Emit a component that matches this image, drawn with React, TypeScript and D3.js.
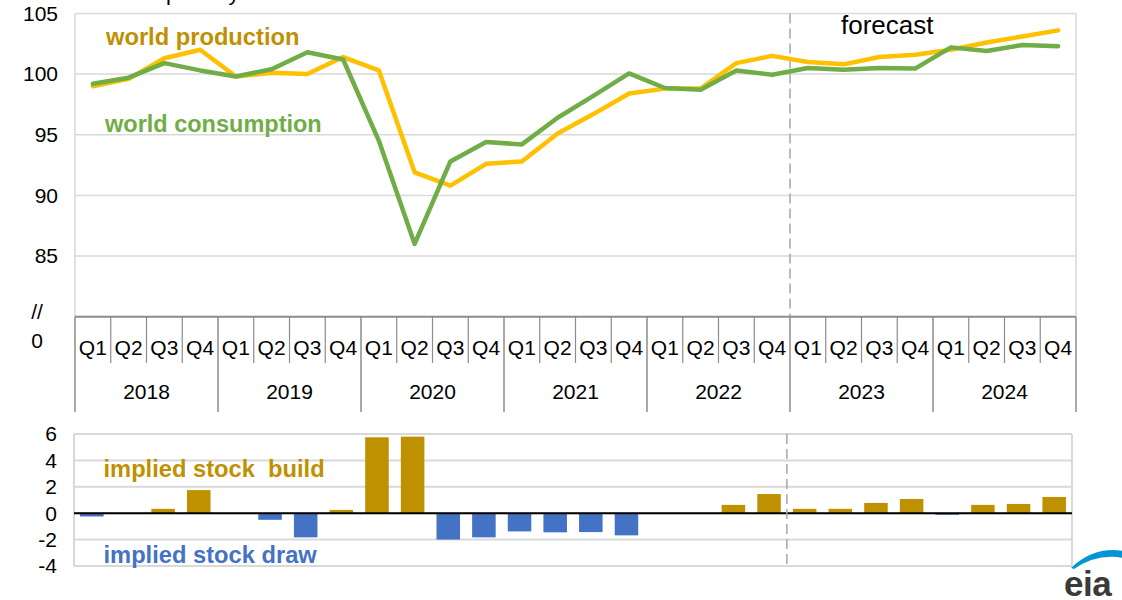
import React from "react";
import * as d3 from "d3";

const quarters = ["Q1", "Q2", "Q3", "Q4"];
const years = ["2018", "2019", "2020", "2021", "2022", "2023", "2024"];
const production = [
  99.0, 99.6, 101.3, 102.0,
  99.8, 100.1, 100.0, 101.4,
  100.3, 91.9, 90.8, 92.6,
  92.8, 95.1, 96.7, 98.4,
  98.8, 98.8, 100.9, 101.5,
  101.0, 100.8, 101.4, 101.6,
  102.0, 102.6, 103.1, 103.6,
];
const consumption = [
  99.2, 99.7, 100.9, 100.3,
  99.8, 100.4, 101.8, 101.2,
  94.5, 86.0, 92.8, 94.4,
  94.2, 96.4, 98.2, 100.05,
  98.85, 98.7, 100.3, 99.95,
  100.5, 100.35, 100.5, 100.45,
  102.2, 101.9, 102.4, 102.3,
];
const stockChange = [
  -0.25, 0, 0.33, 1.75,
  0, -0.5, -1.83, 0.25,
  5.75, 5.8, -2.0, -1.83,
  -1.38, -1.45, -1.43, -1.68,
  0, 0, 0.63, 1.45,
  0.33, 0.33, 0.78, 1.08,
  -0.12, 0.63, 0.7, 1.23,
];
const topTicks = [85, 90, 95, 100, 105];
const bottomTicks = [-4, -2, 0, 2, 4, 6];
const forecastStart = 20;

const FONT = "'Liberation Sans', Arial, sans-serif";
const GRID = "#d9d9d9";
const AXIS = "#8c8c8c";

export default function App() {
  const n = production.length;
  const idx = d3.range(n);
  const xTop = d3.scaleBand<number>().domain(idx).range([75, 1076]).padding(0);
  const xBot = d3.scaleBand<number>().domain(idx).range([74, 1072]).paddingInner(0.34).paddingOuter(0.17);
  const xBotEdge = d3.scaleBand<number>().domain(idx).range([74, 1072]).padding(0);
  const yTop = d3.scaleLinear().domain([80, 105]).range([316.7, 13.4]);
  const yBot = d3.scaleLinear().domain([-4, 6]).range([566, 434]);

  const cx = (i: number) => (xTop(i) as number) + xTop.bandwidth() / 2;
  const line = d3
    .line<number>()
    .x((_, i) => cx(i))
    .y((d) => yTop(d));

  const forecastX = xTop(forecastStart) as number;
  const forecastXBot = xBotEdge(forecastStart) as number;
  const axisY = yTop(80);

  return (
    <svg
      width={1122}
      height={600}
      style={{ position: "absolute", left: 0, top: 0, background: "#fff" }}
      fontFamily={FONT}
    >
      {/* clipped title (only descenders visible) */}
      <text x={166} y={-0.5} fontSize={22} fill="#000">
        per day
      </text>

      {/* top chart gridlines */}
      {topTicks.map((t) => (
        <line key={"g" + t} x1={75} x2={1076} y1={yTop(t)} y2={yTop(t)} stroke={GRID} strokeWidth={1.5} />
      ))}
      <line x1={75} x2={75} y1={yTop(105)} y2={axisY} stroke={GRID} strokeWidth={1.5} />
      <line x1={1076} x2={1076} y1={yTop(105)} y2={axisY} stroke={GRID} strokeWidth={1.5} />
      {topTicks.map((t) => (
        <text key={"t" + t} x={58} y={yTop(t)} dy="0.35em" textAnchor="end" fontSize={21} fill="#000">
          {t}
        </text>
      ))}
      <text x={37} y={319} textAnchor="middle" fontSize={21} fill="#000">//</text>
      <text x={37} y={348} textAnchor="middle" fontSize={21} fill="#000">0</text>

      {/* forecast divider */}
      <line x1={forecastX} x2={forecastX} y1={yTop(105)} y2={axisY} stroke="#a6a6a6" strokeWidth={1.5} strokeDasharray="10,5" />
      <text x={841} y={34} fontSize={26} fill="#000">forecast</text>

      {/* category axis */}
      <line x1={75} x2={1076} y1={axisY} y2={axisY} stroke={AXIS} strokeWidth={2} />
      {d3.range(n + 1).map((i) => {
        const x = i < n ? (xTop(i) as number) : 1076;
        const isYear = i % 4 === 0;
        return (
          <line key={"tk" + i} x1={x} x2={x} y1={axisY} y2={isYear ? 412 : 363} stroke={AXIS} strokeWidth={isYear ? 1.5 : 1.2} />
        );
      })}
      {idx.map((i) => (
        <text key={"q" + i} x={cx(i)} y={355} textAnchor="middle" fontSize={21} fill="#000">
          {quarters[i % 4]}
        </text>
      ))}
      {years.map((yr, j) => {
        const x0 = xTop(j * 4) as number;
        return (
          <text key={yr} x={x0 + xTop.bandwidth() * 2} y={399} textAnchor="middle" fontSize={21} fill="#000">
            {yr}
          </text>
        );
      })}

      {/* lines */}
      <path d={line(production) || ""} fill="none" stroke="#FFC000" strokeWidth={4.5} strokeLinejoin="round" strokeLinecap="round" />
      <path d={line(consumption) || ""} fill="none" stroke="#70AD47" strokeWidth={4.5} strokeLinejoin="round" strokeLinecap="round" />
      <text x={106} y={45} fontSize={23.7} fontWeight="bold" fill="#BF9000">world production</text>
      <text x={105} y={132} fontSize={23.5} fontWeight="bold" fill="#70AD47">world consumption</text>

      {/* bottom chart */}
      {bottomTicks.map((t) => (
        <line key={"bg" + t} x1={74} x2={1072} y1={yBot(t)} y2={yBot(t)} stroke={GRID} strokeWidth={2} />
      ))}
      <line x1={74} x2={74} y1={yBot(6)} y2={yBot(-4)} stroke={GRID} strokeWidth={2} />
      <line x1={1072} x2={1072} y1={yBot(6)} y2={yBot(-4)} stroke={GRID} strokeWidth={2} />
      {bottomTicks.map((t) => (
        <text key={"bt" + t} x={57} y={yBot(t)} dy="0.35em" textAnchor="end" fontSize={21} fill="#000">
          {t}
        </text>
      ))}
      {stockChange.map((v, i) => (
        <rect
          key={"b" + i}
          x={xBot(i) as number}
          width={xBot.bandwidth()}
          y={yBot(Math.max(0, v))}
          height={Math.abs(yBot(v) - yBot(0))}
          fill={v >= 0 ? "#BF9000" : "#4472C4"}
        />
      ))}
      <line x1={74} x2={1072} y1={yBot(0)} y2={yBot(0)} stroke="#000" strokeWidth={2} />
      <line x1={forecastXBot} x2={forecastXBot} y1={yBot(6)} y2={yBot(-4)} stroke="#a6a6a6" strokeWidth={1.5} strokeDasharray="10,5" />
      <text x={103.5} y={477} fontSize={23.7} fontWeight="bold" fill="#BF9000" style={{ whiteSpace: "pre" }}>
        {"implied stock  build"}
      </text>
      <text x={103.5} y={563} fontSize={23.7} fontWeight="bold" fill="#4472C4">implied stock draw</text>

      {/* eia logo */}
      <path d="M1071,568 Q1094,546 1124,551 L1124,558 Q1097,553 1074,569 Z" fill="#0096D6" />
      <text x={1064} y={596} fontSize={35} fontWeight="bold" fill="#3a3a3a" letterSpacing={-0.5}>eia</text>
    </svg>
  );
}
